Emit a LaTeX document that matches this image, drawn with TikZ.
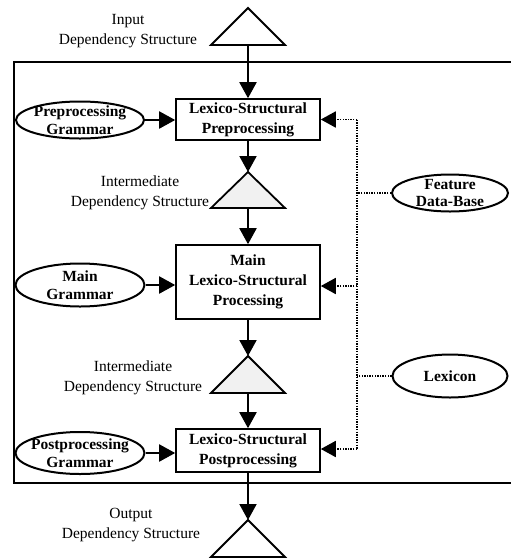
\documentclass[tikz,border=0pt]{standalone}
\usepackage{fontspec}
\setmainfont{Liberation Serif}
\usetikzlibrary{arrows.meta,shapes.geometric}
\begin{document}
\begin{tikzpicture}[x=1pt,y=-1pt,
  every node/.style={font=\fontsize{15.5}{20}\selectfont},
  proc/.style={draw, line width=1.6pt, rectangle, minimum width=144pt, align=center, inner sep=0pt, font=\fontsize{15.5}{20}\selectfont\bfseries},
  ell/.style={draw, line width=2pt, ellipse, inner sep=0pt},
  elltext/.style={align=center, inner sep=0pt, font=\fontsize{15.5}{17.5}\selectfont\bfseries},
  flow/.style={line width=2pt, -{Triangle[length=16pt,width=17pt]}},
  dots/.style={line width=1.8pt, dash pattern=on 1.4pt off 1.2pt},
  darrow/.style={dots, -{Triangle[length=15pt,width=16pt]}},
  tri/.style={line width=1.8pt, line join=miter},
  shade/.style={fill=gray!11},
  lbl/.style={align=center, inner sep=0pt}
]
\useasboundingbox (0,0) rectangle (511,558);

% frame
\draw[line width=2.5pt] (511,62) -- (14,62) -- (14,483) -- (511,483);

% triangles
\draw[tri] (248,8) -- (285,45) -- (211,45) -- cycle;
\coordinate (t1b) at (248,45);
\draw[tri,shade] (248,172) -- (285,208) -- (211,208) -- cycle;
\coordinate (t2a) at (248,172);
\coordinate (t2b) at (248,208);
\draw[tri,shade] (248,356) -- (285,393) -- (211,393) -- cycle;
\coordinate (t3a) at (248,356);
\coordinate (t3b) at (248,393);
\draw[tri] (248,520) -- (285,557) -- (211,557) -- cycle;
\coordinate (t4a) at (248,520);

% triangle labels
\node[lbl] (inlbl) at (128,31) {Input\\Dependency Structure};
\node[lbl] (im1lbl) at (140,193) {Intermediate\\Dependency Structure};
\node[lbl] (im2lbl) at (133,378) {Intermediate\\Dependency Structure};
\node[lbl] (outlbl) at (131,525) {Output\\Dependency Structure};

% process boxes
\node[proc, minimum height=41pt] (box1) at (248,119.5) {Lexico-Structural\\Preprocessing};
\node[proc, minimum height=74pt] (box2) at (248,282) {Main\\Lexico-Structural\\Processing};
\node[proc, minimum height=43pt] (box3) at (248,450.5) {Lexico-Structural\\Postprocessing};

% grammar ellipses
\node[ell, minimum width=128pt, minimum height=37pt] (preg) at (80,120) {};
\node[elltext] (pregt) at (preg.center) {Preprocessing\\Grammar};
\node[ell, minimum width=129pt, minimum height=43pt] (maing) at (80,285) {};
\node[elltext] (maingt) at (maing.center) {Main\\Grammar};
\node[ell, minimum width=129pt, minimum height=42pt] (postg) at (80,453) {};
\node[elltext] (postgt) at (postg.center) {Postprocessing\\Grammar};

% resource ellipses
\node[ell, minimum width=116pt, minimum height=37pt] (feat) at (450,193) {};
\node[elltext] (featt) at (feat.center) {Feature\\Data-Base};
\node[ell, minimum width=115pt, minimum height=43pt] (lex) at (450,376) {};
\node[elltext] (lext) at (lex.center) {Lexicon};

% main flow
\draw[flow] (t1b) -- (box1.north);
\draw[flow] (box1.south) -- (t2a);
\draw[flow] (t2b) -- (box2.north);
\draw[flow] (box2.south) -- (t3a);
\draw[flow] (t3b) -- (box3.north);
\draw[flow] (box3.south) -- (t4a);

% grammar arrows
\draw[flow] (preg.east) -- (preg.east -| box1.west);
\draw[flow] (maing.east) -- (maing.east -| box2.west);
\draw[flow] (postg.east) -- (postg.east -| box3.west);

% dotted resource bus
\coordinate (d1) at (357,119.5);
\coordinate (d2) at (357,286);
\coordinate (d3) at (357,449);
\draw[dots] (d1) -- (d3);
\draw[dots] (feat.west) -- (feat.west -| d1);
\draw[dots] (lex.west) -- (lex.west -| d1);
\draw[darrow] (d1) -- (d1 -| box1.east);
\draw[darrow] (d2) -- (d2 -| box2.east);
\draw[darrow] (d3) -- (d3 -| box3.east);
\end{tikzpicture}
\end{document}
